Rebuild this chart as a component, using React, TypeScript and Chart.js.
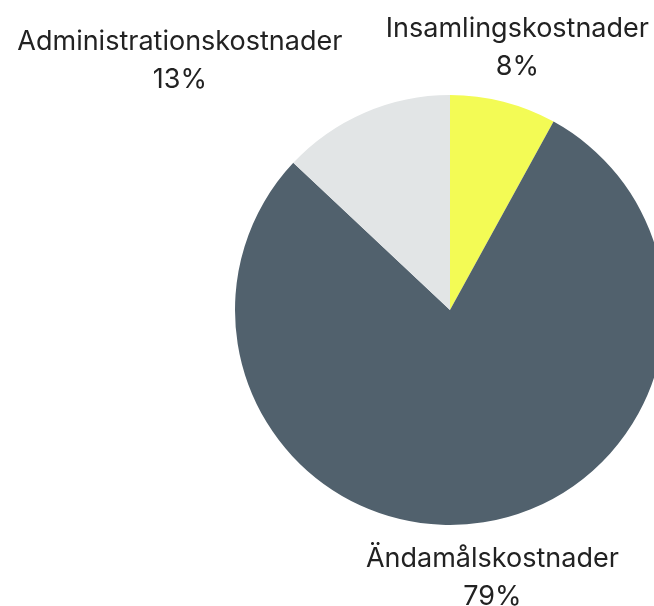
import React, { useEffect, useRef } from "react";
import { Chart, registerables } from "chart.js";

Chart.register(...registerables);

const categories = ["Insamlingskostnader", "Ändamålskostnader", "Administrationskostnader"];
const values = [8, 79, 13];
const colors = ["#f3fb55", "#51616d", "#e2e5e6"];

const labelPlugin = {
  id: "outLabels",
  afterDatasetsDraw(chart: any) {
    const ctx = chart.ctx;
    const meta = chart.getDatasetMeta(0);
    const data = chart.data.datasets[0].data as number[];
    const total = data.reduce((a, b) => a + b, 0);
    ctx.save();
    ctx.font = "400 27px Inter, 'Noto Sans', sans-serif";
    ctx.fillStyle = "#222222";
    ctx.textBaseline = "alphabetic";
    meta.data.forEach((arc: any, i: number) => {
      const { x, y, startAngle, endAngle, outerRadius } = arc.getProps(
        ["x", "y", "startAngle", "endAngle", "outerRadius"],
        true
      );
      const mid = (startAngle + endAngle) / 2;
      const dist = outerRadius + 56;
      const ax = x + Math.cos(mid) * dist;
      const ay = y + Math.sin(mid) * dist;
      const name = chart.data.labels[i];
      const pct = Math.round((data[i] / total) * 100) + "%";
      const w = ctx.measureText(name).width;
      let cx = ax;
      if (ax < x - 1) cx = ax - w / 2;
      ctx.textAlign = "center";
      ctx.fillText(name, cx, ay - 11);
      ctx.fillText(pct, cx, ay + 27);
    });
    ctx.restore();
  },
};

export default function App() {
  const ref = useRef<HTMLCanvasElement>(null);
  useEffect(() => {
    if (!ref.current) return;
    const chart = new Chart(ref.current, {
      type: "pie",
      data: {
        labels: categories,
        datasets: [
          {
            data: values,
            backgroundColor: colors,
            borderWidth: 0,
            hoverOffset: 0,
          },
        ],
      },
      options: {
        responsive: false,
        animation: false,
        layout: { padding: { left: 235, right: 35, top: 95, bottom: 81 } },
        plugins: {
          legend: { display: false },
          tooltip: { enabled: false },
        },
      },
      plugins: [labelPlugin],
    });
    return () => chart.destroy();
  }, []);
  return (
    <div
      style={{
        position: "fixed",
        left: 0,
        top: 0,
        width: 654,
        height: 606,
        overflow: "hidden",
        background: "#ffffff",
      }}
    >
      <canvas ref={ref} width={700} height={606} style={{ display: "block" }} />
    </div>
  );
}
